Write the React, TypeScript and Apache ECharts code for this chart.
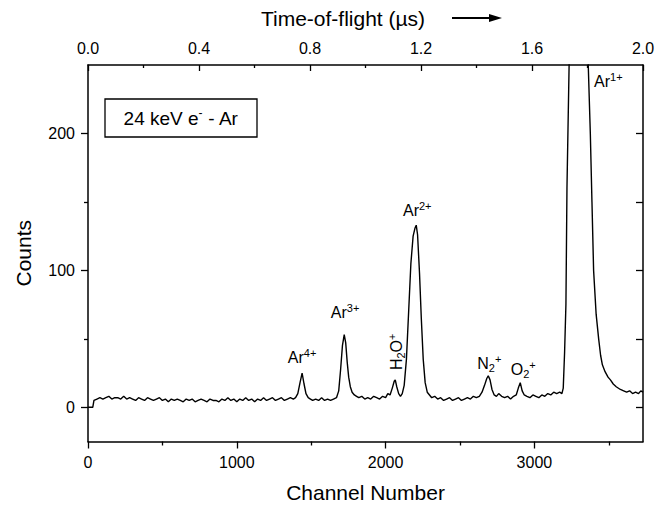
import React, { useEffect, useRef } from "react";
import * as echarts from "echarts";

const FONT = "'Liberation Sans', Arial, Helvetica, sans-serif";

// Spectrum: channel number vs counts
const channels = [
  0, 20, 32, 40, 60, 80, 100, 120, 140, 160, 180, 200, 220, 240, 260, 280, 300, 320, 340, 360,
  380, 400, 420, 440, 460, 480, 500, 520, 540, 560, 580, 600, 620, 640, 660, 680, 700, 720, 740, 760,
  780, 800, 820, 840, 860, 880, 900, 920, 940, 960, 980, 1000, 1020, 1040, 1060, 1080, 1100, 1120, 1140, 1160,
  1180, 1200, 1220, 1240, 1260, 1280, 1300, 1320, 1340, 1360, 1380, 1395, 1410, 1425, 1439, 1452, 1465, 1480, 1495, 1510,
  1530, 1550, 1570, 1590, 1610, 1630, 1650, 1670, 1685, 1698, 1710, 1722, 1732, 1742, 1752, 1763, 1775, 1790, 1805, 1820,
  1840, 1860, 1880, 1900, 1920, 1940, 1960, 1980, 2000, 2015, 2030, 2045, 2058, 2065, 2075, 2088, 2100, 2112, 2125, 2140,
  2155, 2170, 2185, 2198, 2206, 2215, 2228, 2240, 2253, 2266, 2280, 2295, 2310, 2330, 2350, 2370, 2390, 2410, 2430, 2450,
  2470, 2490, 2510, 2530, 2550, 2570, 2590, 2610, 2630, 2648, 2665, 2680, 2690, 2702, 2715, 2730, 2745, 2760, 2780, 2800,
  2820, 2840, 2860, 2878, 2892, 2905, 2918, 2932, 2950, 2970, 2990, 3010, 3030, 3050, 3070, 3090, 3110, 3130, 3150, 3170,
  3185, 3194, 3203, 3212, 3219, 3235, 3255, 3280, 3300, 3320, 3340, 3355, 3362, 3376, 3387, 3398, 3415, 3432, 3445, 3457,
  3475, 3495, 3511, 3530, 3550, 3578, 3600, 3620, 3640, 3660, 3680, 3700, 3715, 3730,
];
const counts = [
  0, 0, 0, 5, 6, 7, 6, 7, 8, 6, 7, 7, 6, 8, 6, 7, 6, 5, 7, 6,
  5, 7, 6, 5, 6, 7, 5, 6, 4, 6, 5, 6, 5, 4, 6, 5, 6, 4, 5, 6,
  5, 4, 6, 5, 5, 4, 6, 5, 7, 5, 6, 4, 6, 5, 7, 5, 6, 4, 6, 5,
  7, 5, 6, 7, 5, 6, 7, 5, 6, 7, 6, 7, 10, 18, 25, 17, 10, 7, 6, 5,
  6, 5, 7, 5, 6, 5, 6, 7, 12, 28, 45, 53, 47, 33, 22, 15, 11, 9, 8, 7,
  8, 6, 7, 6, 8, 7, 6, 8, 7, 10, 9, 14, 19, 20, 15, 10, 8, 10, 16, 35,
  70, 105, 125, 131, 133, 126, 98, 65, 35, 18, 11, 9, 7, 8, 6, 7, 5, 6, 7, 5,
  6, 7, 5, 6, 7, 6, 8, 7, 8, 11, 16, 21, 23, 20, 13, 9, 8, 10, 8, 7,
  8, 6, 8, 9, 14, 18, 12, 9, 8, 7, 9, 8, 7, 9, 8, 10, 9, 11, 10, 11,
  10, 14, 40, 75, 160, 260, 700, 1100, 1250, 1000, 600, 330, 250, 200, 150, 100, 68, 50, 38, 31,
  26, 22, 20, 17, 15, 13, 12, 11, 12, 10, 11, 10, 12, 11,
];

// Axis ticks
const channelTicks = [0, 1000, 2000, 3000];
const channelMinorTicks = [500, 1500, 2500, 3500];
const countTicks = [0, 100, 200];
const countMinorTicks = [50, 150];
const rightTicks = [0, 50, 100, 150, 200];
const channelMin = 0;
const channelMax = 3730;
const countMin = -25;
const countMax = 250;
const tofMin = 0;
const tofMax = 2.0;
const tofStep = 0.4;

// Peak labels
const peakLabels = [
  "{m|Ar}{sup|4+}",
  "{m|Ar}{sup|3+}",
  "{m|H}{sub|2}{m|O}{sup|+}",
  "{m|Ar}{sup|2+}",
  "{m|N}{sub|2}{sup|+}",
  "{m|O}{sub|2}{sup|+}",
  "{m|Ar}{sup|1+}",
];
const peakLabelChannels = [1439, 1728, 2071, 2213, 2697, 2925, 3497];
const peakLabelCounts = [36, 69, 40.5, 143.6, 31.7, 27.3, 238];
const peakLabelRotate = [0, 0, 90, 0, 0, 0, 0];

const BLACK = "#000";

export default function App() {
  const ref = useRef<HTMLDivElement>(null);

  useEffect(() => {
    if (!ref.current) return;
    const chart = echarts.init(ref.current, undefined, { renderer: "svg" });

    const lineStyle = { color: BLACK, width: 1.5 };
    const tickLine = { color: BLACK, width: 1.3 };
    const labelStyle = { color: BLACK, fontSize: 16, fontFamily: FONT };
    const nameStyle = { color: BLACK, fontSize: 21, fontFamily: FONT };

    const rich = {
      m: { fontSize: 16, fontFamily: FONT, color: BLACK, lineHeight: 20 },
      sup: { fontSize: 11, fontFamily: FONT, color: BLACK, lineHeight: 11, verticalAlign: "top" },
      sub: { fontSize: 11, fontFamily: FONT, color: BLACK, lineHeight: 11, verticalAlign: "bottom" },
    };

    const option: any = {
      animation: false,
      backgroundColor: "#fff",
      grid: { left: 88, right: 27, top: 65, bottom: 68.5, containLabel: false },
      xAxis: [
        {
          type: "value",
          position: "bottom",
          min: channelMin,
          max: channelMax,
          axisLine: { show: true, onZero: false, lineStyle },
          axisTick: { show: true, inside: false, length: 7, lineStyle: tickLine, customValues: channelTicks },
          axisLabel: { ...labelStyle, margin: 13, customValues: channelTicks, formatter: (v: number) => String(v) },
          splitLine: { show: false },
          name: "Channel Number",
          nameLocation: "middle",
          nameGap: 40,
          nameTextStyle: nameStyle,
        },
        {
          type: "value",
          position: "bottom",
          min: channelMin,
          max: channelMax,
          axisLine: { show: false, onZero: false },
          axisTick: { show: true, inside: false, length: 4, lineStyle: tickLine, customValues: channelMinorTicks },
          axisLabel: { show: false },
          splitLine: { show: false },
        },
        {
          type: "value",
          position: "top",
          min: tofMin,
          max: tofMax,
          interval: tofStep,
          axisLine: { show: true, onZero: false, lineStyle },
          axisTick: { show: true, inside: true, length: 6, lineStyle: tickLine },
          minorTick: { show: true, splitNumber: 2, length: 3, lineStyle: tickLine },
          axisLabel: { ...labelStyle, margin: 9, formatter: (v: number) => v.toFixed(1) },
          splitLine: { show: false },
        },
      ],
      yAxis: [
        {
          type: "value",
          position: "left",
          min: countMin,
          max: countMax,
          axisLine: { show: true, onZero: false, lineStyle },
          axisTick: { show: true, inside: false, length: 7, lineStyle: tickLine, customValues: countTicks },
          axisLabel: { ...labelStyle, margin: 13, customValues: countTicks, formatter: (v: number) => String(v) },
          splitLine: { show: false },
          name: "Counts",
          nameLocation: "middle",
          nameGap: 54,
          nameRotate: 90,
          nameTextStyle: nameStyle,
        },
        {
          type: "value",
          position: "left",
          min: countMin,
          max: countMax,
          axisLine: { show: false, onZero: false },
          axisTick: { show: true, inside: false, length: 4, lineStyle: tickLine, customValues: countMinorTicks },
          axisLabel: { show: false },
          splitLine: { show: false },
        },
        {
          type: "value",
          position: "right",
          min: countMin,
          max: countMax,
          axisLine: { show: true, onZero: false, lineStyle },
          axisTick: { show: true, inside: true, length: 7, lineStyle: tickLine, customValues: rightTicks },
          axisLabel: { show: false },
          splitLine: { show: false },
        },
      ],
      series: [
        {
          type: "line",
          xAxisIndex: 0,
          yAxisIndex: 0,
          data: channels.map((c, i) => [c, counts[i]]),
          showSymbol: false,
          symbol: "none",
          clip: true,
          lineStyle: { color: BLACK, width: 1.4 },
          silent: true,
        },
        {
          type: "scatter",
          xAxisIndex: 0,
          yAxisIndex: 0,
          symbolSize: 1,
          itemStyle: { color: "rgba(0,0,0,0)", opacity: 1 },
          silent: true,
          data: peakLabels.map((t, i) => ({
            value: [peakLabelChannels[i], peakLabelCounts[i]],
            label: {
              show: true,
              position: "inside",
              formatter: t,
              rotate: peakLabelRotate[i],
              color: BLACK,
              opacity: 1,
              textBorderWidth: 0,
              rich,
            },
          })),
        },
      ],
      graphic: [
        {
          type: "text",
          x: 343,
          y: 18,
          style: {
            text: "Time-of-flight (\u00b5s)",
            fontSize: 21,
            fontFamily: FONT,
            fill: BLACK,
            align: "center",
            verticalAlign: "middle",
          },
        },
        {
          type: "line",
          shape: { x1: 452, y1: 18, x2: 492, y2: 18 },
          style: { stroke: BLACK, lineWidth: 2 },
        },
        {
          type: "polygon",
          shape: { points: [[489, 14], [502, 18], [489, 22]] },
          style: { fill: BLACK },
        },
        {
          type: "rect",
          shape: { x: 105, y: 99, width: 152, height: 38 },
          style: { fill: "#fff", stroke: BLACK, lineWidth: 1.3 },
          z: 10,
        },
        {
          type: "text",
          x: 181,
          y: 118,
          z: 11,
          style: {
            text: "{n|24 keV e}{s|-}{n| - Ar}",
            align: "center",
            verticalAlign: "middle",
            rich: {
              n: { fontSize: 19, fontFamily: FONT, fill: BLACK, lineHeight: 22 },
              s: { fontSize: 12, fontFamily: FONT, fill: BLACK, lineHeight: 12, verticalAlign: "top" },
            },
          },
        },
      ],
    };

    chart.setOption(option);
    return () => chart.dispose();
  }, []);

  return (
    <div
      ref={ref}
      style={{ position: "fixed", left: 0, top: 0, width: 670, height: 510, background: "#fff" }}
    />
  );
}
